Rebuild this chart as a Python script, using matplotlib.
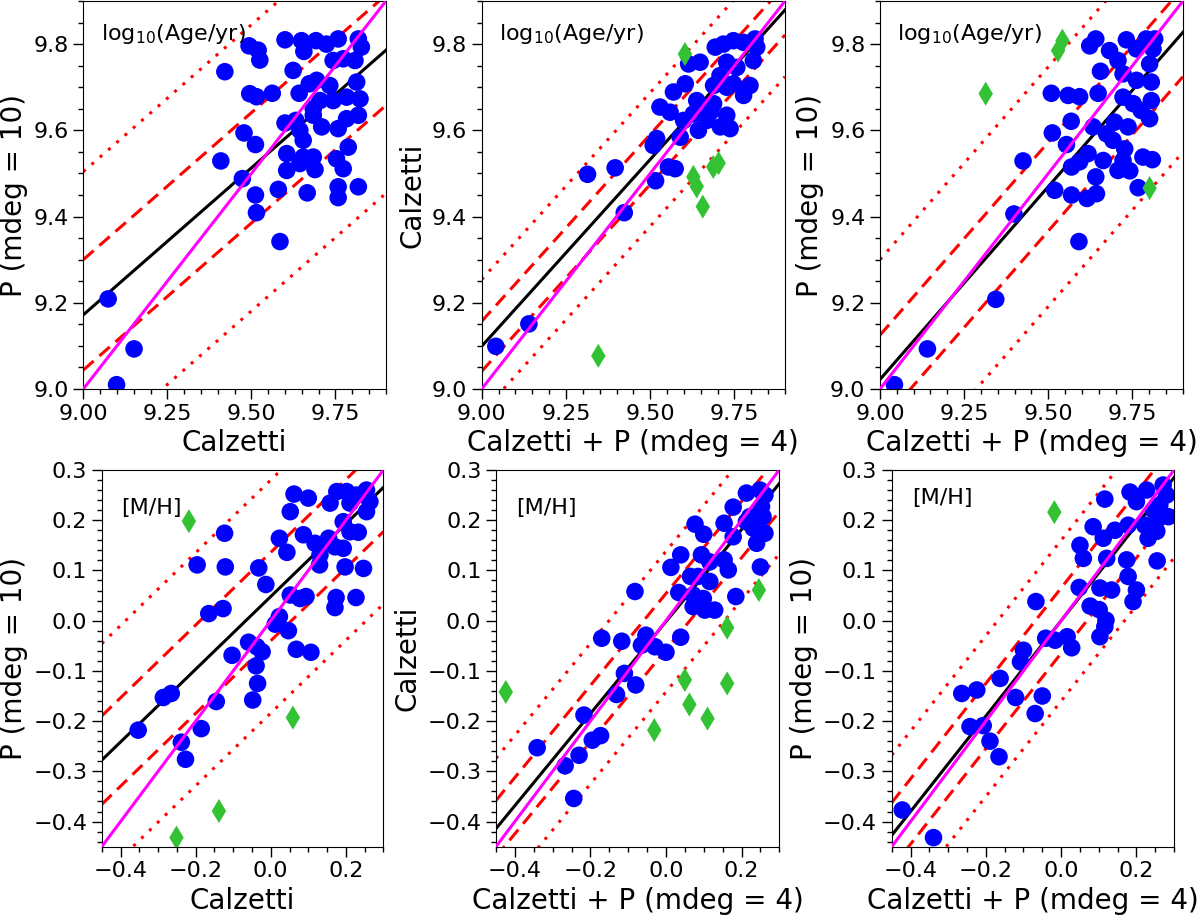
import matplotlib
matplotlib.use('Agg')
import matplotlib.pyplot as plt
from matplotlib.ticker import MultipleLocator
import numpy as np

# ---------------- top row: log10(Age/yr) ----------------
age_cal_x = [9.074, 9.151, 9.099, 9.421, 9.409, 9.473, 9.512, 9.515, 9.585, 9.580,
             9.666, 9.493, 9.520, 9.525, 9.495, 9.515, 9.562, 9.478, 9.512, 9.600,
             9.624, 9.649, 9.656, 9.692, 9.723, 9.758, 9.743, 9.773, 9.818, 9.827,
             9.808, 9.642, 9.672, 9.694, 9.733, 9.813, 9.823, 9.783, 9.684, 9.704,
             9.743, 9.600, 9.632, 9.644, 9.684, 9.709, 9.758, 9.783, 9.818, 9.654,
             9.605, 9.654, 9.684, 9.605, 9.689, 9.788, 9.753, 9.773, 9.758, 9.818,
             9.758, 9.644]
age_cal_y = [9.209, 9.093, 9.010, 9.736, 9.529, 9.488, 9.450, 9.409, 9.342, 9.463,
             9.455, 9.796, 9.786, 9.763, 9.685, 9.678, 9.686, 9.594, 9.567, 9.810,
             9.739, 9.808, 9.783, 9.808, 9.800, 9.812, 9.762, 9.766, 9.812, 9.793,
             9.762, 9.686, 9.708, 9.716, 9.704, 9.712, 9.673, 9.677, 9.650, 9.669,
             9.669, 9.617, 9.623, 9.600, 9.635, 9.608, 9.604, 9.627, 9.635, 9.577,
             9.546, 9.538, 9.538, 9.507, 9.509, 9.561, 9.534, 9.511, 9.469, 9.469,
             9.444, 9.523]

age_mid_x = [9.042, 9.140, 9.314, 9.396, 9.423, 9.516, 9.509, 9.519, 9.554, 9.574,
             9.529, 9.559, 9.569, 9.604, 9.589, 9.614, 9.648, 9.638, 9.628, 9.643,
             9.678, 9.688, 9.708, 9.727, 9.737, 9.688, 9.707, 9.693, 9.717, 9.747,
             9.777, 9.811, 9.816, 9.806, 9.727, 9.757, 9.727, 9.777, 9.796, 9.747,
             9.668, 9.599]
age_mid_y = [9.099, 9.151, 9.498, 9.513, 9.409, 9.483, 9.565, 9.581, 9.515, 9.511,
             9.654, 9.642, 9.689, 9.708, 9.584, 9.754, 9.758, 9.669, 9.638, 9.600,
             9.642, 9.662, 9.608, 9.635, 9.604, 9.704, 9.727, 9.793, 9.800, 9.808,
             9.804, 9.812, 9.793, 9.762, 9.758, 9.746, 9.700, 9.681, 9.704, 9.708,
             9.623, 9.623]
age_mid_out_x = [9.603, 9.346, 9.628, 9.638, 9.656, 9.687, 9.703]
age_mid_out_y = [9.777, 9.077, 9.492, 9.470, 9.423, 9.515, 9.524]

age_rgt_x = [9.043, 9.141, 9.344, 9.398, 9.425, 9.591, 9.509, 9.559, 9.593, 9.648,
             9.512, 9.554, 9.568, 9.519, 9.569, 9.615, 9.643, 9.641, 9.569, 9.593,
             9.618, 9.663, 9.633, 9.673, 9.623, 9.641, 9.655, 9.682, 9.732, 9.707,
             9.722, 9.762, 9.791, 9.816, 9.811, 9.801, 9.762, 9.806, 9.722, 9.752,
             9.806, 9.776, 9.801, 9.697, 9.737, 9.692, 9.727, 9.722, 9.707, 9.742,
             9.781, 9.809, 9.767]
age_rgt_y = [9.010, 9.093, 9.208, 9.406, 9.529, 9.342, 9.686, 9.681, 9.678, 9.686,
             9.594, 9.567, 9.621, 9.461, 9.450, 9.442, 9.453, 9.492, 9.515, 9.527,
             9.546, 9.530, 9.608, 9.592, 9.796, 9.812, 9.737, 9.785, 9.810, 9.762,
             9.731, 9.789, 9.812, 9.812, 9.789, 9.754, 9.716, 9.712, 9.677, 9.662,
             9.669, 9.646, 9.627, 9.619, 9.608, 9.577, 9.557, 9.530, 9.507, 9.506,
             9.538, 9.532, 9.467]
age_rgt_out_x = [9.542, 9.529, 9.314, 9.801]
age_rgt_out_y = [9.808, 9.785, 9.685, 9.466]

# ---------------- bottom row: [M/H] ----------------
mh_cal_x = [-0.353, -0.286, -0.265, -0.238, -0.227, -0.185, -0.145, -0.196, -0.123, -0.121,
            -0.165, -0.127, -0.103, -0.059, -0.037, -0.023, -0.039, -0.035, -0.048, -0.032,
            -0.013, 0.023, 0.012, 0.047, 0.068, 0.107, 0.023, 0.043, 0.052, 0.078,
            0.094, 0.062, 0.052, 0.100, 0.087, 0.118, 0.131, 0.130, 0.154, 0.171,
            0.193, 0.198, 0.247, 0.174, 0.171, 0.227, 0.158, 0.176, 0.202, 0.229,
            0.211, 0.193, 0.211, 0.233, 0.255, 0.264, 0.255]
mh_cal_y = [-0.218, -0.153, -0.145, -0.242, -0.276, -0.215, -0.161, 0.111, 0.174, 0.107,
            0.014, 0.024, -0.069, -0.043, -0.052, -0.062, -0.090, -0.125, -0.158, 0.105,
            0.072, 0.008, -0.007, -0.020, -0.057, -0.063, 0.164, 0.136, 0.051, 0.044,
            0.048, 0.252, 0.217, 0.244, 0.171, 0.154, 0.131, 0.111, 0.164, 0.147,
            0.144, 0.107, 0.104, 0.046, 0.026, 0.046, 0.234, 0.257, 0.257, 0.250,
            0.234, 0.197, 0.177, 0.176, 0.260, 0.237, 0.217]
mh_cal_out_x = [-0.218, 0.059, -0.138, -0.251]
mh_cal_out_y = [0.198, -0.193, -0.379, -0.432]

mh_mid_x = [-0.341, -0.267, -0.244, -0.230, -0.217, -0.195, -0.173, -0.170, -0.117, -0.131,
            -0.110, -0.080, -0.082, -0.053, -0.065, -0.029, 0.000, 0.039, 0.013, 0.039,
            0.034, 0.065, 0.077, 0.100, 0.094, 0.116, 0.085, 0.116, 0.072, 0.099,
            0.072, 0.103, 0.129, 0.154, 0.165, 0.185, 0.154, 0.178, 0.178, 0.213,
            0.249, 0.262, 0.253, 0.257, 0.222, 0.231, 0.262, 0.240, 0.250, 0.213]
mh_mid_y = [-0.253, -0.289, -0.354, -0.268, -0.188, -0.238, -0.229, -0.035, -0.041, -0.147,
            -0.105, -0.128, 0.058, -0.029, -0.049, -0.052, -0.063, -0.033, 0.106, 0.131,
            0.056, 0.088, 0.192, 0.172, 0.131, 0.117, 0.088, 0.078, 0.051, 0.044,
            0.028, 0.021, 0.021, 0.121, 0.101, 0.048, 0.194, 0.167, 0.226, 0.254,
            0.260, 0.250, 0.227, 0.207, 0.207, 0.184, 0.174, 0.154, 0.107, 0.197]
mh_mid_out_x = [-0.424, -0.031, 0.050, 0.062, 0.110, 0.162, 0.162, 0.246]
mh_mid_out_y = [-0.142, -0.218, -0.118, -0.167, -0.195, -0.014, -0.125, 0.061]

mh_rgt_x = [-0.422, -0.339, -0.264, -0.224, -0.242, -0.207, -0.189, -0.165, -0.162, -0.121,
            -0.108, -0.100, -0.069, -0.050, -0.041, -0.016, 0.016, 0.028, -0.067, 0.048,
            0.103, 0.077, 0.101, 0.119, 0.116, 0.103, 0.134, 0.178, 0.200, 0.191,
            0.174, 0.255, 0.050, 0.059, 0.085, 0.112, 0.121, 0.143, 0.116, 0.183,
            0.178, 0.200, 0.227, 0.222, 0.254, 0.245, 0.271, 0.280, 0.262, 0.285,
            0.258, 0.231]
mh_rgt_y = [-0.377, -0.432, -0.145, -0.138, -0.211, -0.209, -0.240, -0.271, -0.115, -0.153,
            -0.082, -0.059, -0.185, -0.150, -0.035, -0.039, -0.032, -0.054, 0.038, 0.066,
            -0.032, 0.029, 0.022, 0.001, -0.012, 0.065, 0.061, 0.088, 0.061, 0.038,
            0.121, 0.119, 0.150, 0.124, 0.187, 0.164, 0.124, 0.180, 0.242, 0.256,
            0.190, 0.237, 0.260, 0.190, 0.178, 0.220, 0.270, 0.250, 0.230, 0.207,
            0.204, 0.164]
mh_rgt_out_x = [-0.018]
mh_rgt_out_y = [0.216]

# fitted relation (black) and the two scatter bands (dashed / dotted)
fit_slope = [0.682, 0.867, 0.895, 0.724, 0.916, 0.950]
fit_icpt = [3.034, 1.296, 0.967, 0.048, -0.002, 0.000]
band_in = [0.128, 0.058, 0.103, 0.088, 0.056, 0.065]
band_out = [0.332, 0.155, 0.278, 0.232, 0.140, 0.160]

age_lim = (9.0, 9.9)
mh_lim = (-0.45, 0.3)

# axes boxes in figure fractions [left, bottom, width, height]
boxes = [
    [0.0694, 0.5758, 0.2522, 0.4231],
    [0.4014, 0.5758, 0.2528, 0.4231],
    [0.7333, 0.5758, 0.2525, 0.4231],
    [0.0848, 0.0767, 0.2347, 0.4108],
    [0.4133, 0.0767, 0.2361, 0.4108],
    [0.7431, 0.0767, 0.2353, 0.4108],
]
tag_x = [0.057, 0.058, 0.057, 0.067, 0.071, 0.074]
tag_y = [0.915, 0.915, 0.915, 0.900, 0.900, 0.926]

xlabels = ['Calzetti', 'Calzetti + P (mdeg = 4)', 'Calzetti + P (mdeg = 4)'] * 2
ylabels = ['P (mdeg = 10)', 'Calzetti', 'P (mdeg = 10)'] * 2


def drawPanel(ax, i, xs, ys, xo, yo, lim, tag):
    xx = np.array(lim)
    yfit = fit_icpt[i] + fit_slope[i] * xx
    ax.plot(xx, yfit, '-', color='black', lw=2.2, zorder=2)
    for sgn in (1, -1):
        ax.plot(xx, yfit + sgn * band_in[i], '--', color='red', lw=2.2,
                dashes=(4.5, 2.5), zorder=2)
        ax.plot(xx, yfit + sgn * band_out[i], ':', color='red', lw=2.2,
                dashes=(1, 2.6), zorder=2)
    ax.scatter(xs, ys, s=160, color='blue', edgecolors='none', zorder=3)
    if len(xo) > 0:
        ax.scatter(xo, yo, s=150, marker='d', color='#33c233',
                   edgecolors='none', zorder=4)
    ax.plot(xx, xx, '-', color='magenta', lw=2.2, zorder=5)
    ax.set_xlim(lim)
    ax.set_ylim(lim)
    ax.text(tag_x[i], tag_y[i], tag, transform=ax.transAxes, fontsize=16,
            va='center', ha='left')
    ax.set_xlabel(xlabels[i], fontsize=20)
    ax.set_ylabel(ylabels[i], fontsize=20)
    ax.tick_params(which='major', labelsize=16, length=7, width=1)
    ax.tick_params(which='minor', length=3.6, width=1)


fig = plt.figure(figsize=(12, 9.17), dpi=100)

top_data = [(age_cal_x, age_cal_y, [], []),
            (age_mid_x, age_mid_y, age_mid_out_x, age_mid_out_y),
            (age_rgt_x, age_rgt_y, age_rgt_out_x, age_rgt_out_y)]
bot_data = [(mh_cal_x, mh_cal_y, mh_cal_out_x, mh_cal_out_y),
            (mh_mid_x, mh_mid_y, mh_mid_out_x, mh_mid_out_y),
            (mh_rgt_x, mh_rgt_y, mh_rgt_out_x, mh_rgt_out_y)]

for k in range(3):
    ax = fig.add_axes(boxes[k])
    xs, ys, xo, yo = top_data[k]
    drawPanel(ax, k, xs, ys, xo, yo, age_lim, r'log$_{10}$(Age/yr)')
    ax.set_xticks([9.0, 9.25, 9.5, 9.75])
    ax.set_xticklabels(['9.00', '9.25', '9.50', '9.75'])
    ax.set_yticks([9.0, 9.2, 9.4, 9.6, 9.8])
    ax.xaxis.set_minor_locator(MultipleLocator(0.05))
    ax.yaxis.set_minor_locator(MultipleLocator(0.05))

for k in range(3):
    ax = fig.add_axes(boxes[3 + k])
    xs, ys, xo, yo = bot_data[k]
    drawPanel(ax, 3 + k, xs, ys, xo, yo, mh_lim, '[M/H]')
    ax.set_xticks([-0.4, -0.2, 0.0, 0.2])
    ax.set_yticks([-0.4, -0.3, -0.2, -0.1, 0.0, 0.1, 0.2, 0.3])
    ax.xaxis.set_minor_locator(MultipleLocator(0.05))
    ax.yaxis.set_minor_locator(MultipleLocator(0.02))

fig.savefig('out.png', dpi=100)
